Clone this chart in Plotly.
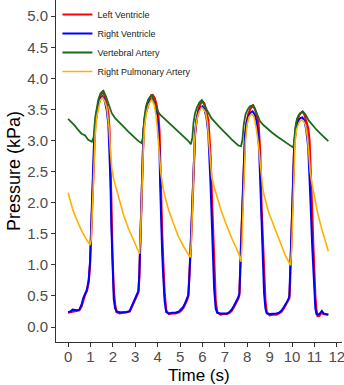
import plotly.graph_objects as go

# ---- data ----
ventricle_time = [
    0.00, 0.10, 0.20, 0.30, 0.40, 0.50, 0.60, 0.68, 0.76, 0.84, 0.92, 0.98, 1.04, 1.09, 1.15,
    1.21, 1.28, 1.35, 1.44, 1.53, 1.62, 1.72, 1.80, 1.85, 1.89, 1.93, 1.98, 2.04, 2.10, 2.17,
    2.30, 2.45, 2.60, 2.75, 2.84, 2.92, 2.99, 3.07, 3.14, 3.18, 3.21, 3.25, 3.29, 3.33, 3.37,
    3.44, 3.52, 3.62, 3.70, 3.78, 3.87, 3.96, 4.03, 4.08, 4.11, 4.14, 4.20, 4.25, 4.31, 4.38,
    4.50, 4.65, 4.80, 4.95, 5.07, 5.15, 5.22, 5.30, 5.37, 5.42, 5.48, 5.54, 5.60, 5.67, 5.74,
    5.82, 5.91, 6.00, 6.09, 6.18, 6.26, 6.31, 6.36, 6.44, 6.52, 6.59, 6.66,
    6.80, 6.95, 7.10, 7.20, 7.30, 7.40, 7.53, 7.60, 7.65, 7.69, 7.72, 7.78, 7.83, 7.90, 7.97,
    8.05, 8.15, 8.24, 8.33, 8.42, 8.50, 8.54, 8.58, 8.64, 8.70, 8.75, 8.81, 8.87,
    9.00, 9.15, 9.30, 9.42, 9.54, 9.65, 9.76, 9.83, 9.88, 9.91, 9.94, 9.98, 10.03, 10.10, 10.20,
    10.28, 10.37, 10.46, 10.55, 10.63, 10.72, 10.78, 10.83, 10.90, 10.95, 11.00, 11.04, 11.09,
    11.14, 11.22, 11.28, 11.33, 11.40, 11.48, 11.55, 11.62,
]

left_ventricle = [
    0.23, 0.24, 0.25, 0.25, 0.26, 0.27, 0.33, 0.44, 0.52, 0.58, 0.72, 1.00, 1.65, 2.29, 2.85,
    3.24, 3.47, 3.60, 3.72, 3.78, 3.73, 3.60, 3.43, 3.15, 2.75, 2.05, 1.15, 0.60, 0.36, 0.24,
    0.22, 0.23, 0.23, 0.25, 0.32, 0.38, 0.44, 0.50, 0.56, 0.80, 1.19, 1.70, 2.15, 2.70, 3.15,
    3.40, 3.55, 3.66, 3.71, 3.73, 3.68, 3.55, 3.40, 3.15, 2.70, 2.10, 1.50, 1.03, 0.55, 0.27,
    0.21, 0.22, 0.22, 0.24, 0.27, 0.31, 0.36, 0.42, 0.50, 0.80, 1.30, 1.85, 2.37, 3.10, 3.35,
    3.50, 3.59, 3.63, 3.59, 3.47, 3.33, 3.05, 2.75, 1.90, 0.95, 0.42, 0.24,
    0.20, 0.21, 0.21, 0.23, 0.26, 0.32, 0.41, 0.46, 0.52, 0.85, 1.30, 1.90, 2.37, 3.05, 3.30,
    3.43, 3.52, 3.56, 3.52, 3.42, 3.28, 3.10, 2.80, 1.90, 1.25, 0.76, 0.42, 0.24,
    0.19, 0.20, 0.20, 0.22, 0.25, 0.31, 0.38, 0.42, 0.47, 0.70, 1.03, 1.55, 2.10, 2.95, 3.28,
    3.38, 3.44, 3.46, 3.42, 3.33, 3.20, 3.00, 2.60, 1.85, 1.30, 0.80, 0.49, 0.28,
    0.18, 0.18, 0.21, 0.24, 0.21, 0.20, 0.20, 0.20,
]

right_ventricle = [
    0.24, 0.25, 0.28, 0.27, 0.27, 0.28, 0.36, 0.47, 0.55, 0.60, 0.76, 1.05, 1.72, 2.35, 2.90,
    3.26, 3.46, 3.57, 3.67, 3.71, 3.66, 3.50, 3.25, 2.85, 2.35, 1.65, 0.90, 0.45, 0.30, 0.25,
    0.24, 0.24, 0.24, 0.26, 0.34, 0.40, 0.46, 0.52, 0.58, 0.85, 1.25, 1.75, 2.20, 2.75, 3.18,
    3.40, 3.52, 3.62, 3.66, 3.67, 3.60, 3.44, 3.22, 2.85, 2.30, 1.80, 1.20, 0.80, 0.42, 0.24,
    0.22, 0.23, 0.23, 0.25, 0.29, 0.33, 0.38, 0.44, 0.52, 0.85, 1.35, 1.90, 2.42, 3.12, 3.34,
    3.46, 3.53, 3.55, 3.50, 3.36, 3.12, 2.75, 2.30, 1.45, 0.62, 0.30, 0.23,
    0.22, 0.22, 0.22, 0.24, 0.28, 0.34, 0.43, 0.48, 0.55, 0.90, 1.35, 1.95, 2.42, 3.08, 3.28,
    3.39, 3.45, 3.47, 3.42, 3.30, 3.05, 2.75, 2.30, 1.45, 0.95, 0.55, 0.30, 0.22,
    0.21, 0.21, 0.22, 0.23, 0.27, 0.33, 0.40, 0.44, 0.50, 0.75, 1.08, 1.60, 2.15, 2.98, 3.24,
    3.32, 3.36, 3.37, 3.32, 3.18, 2.90, 2.50, 1.95, 1.30, 0.85, 0.50, 0.30, 0.21,
    0.20, 0.21, 0.23, 0.26, 0.22, 0.21, 0.21, 0.20,
]

vertebral_time = [
    0.00, 0.15, 0.30, 0.45, 0.60, 0.76, 0.90, 1.06, 1.14, 1.21, 1.28, 1.35, 1.45, 1.58, 1.70,
    1.80, 1.95, 2.10, 2.25, 2.40, 2.54, 2.70, 2.84, 3.00, 3.14, 3.28, 3.34, 3.40, 3.48, 3.58,
    3.73, 3.85, 3.96, 4.10, 4.25, 4.55, 4.85, 5.15, 5.35, 5.48, 5.55, 5.60, 5.67, 5.75, 5.86,
    5.97, 6.10, 6.26, 6.40, 6.56, 6.70, 6.86, 7.00, 7.16, 7.30, 7.46, 7.60, 7.72, 7.78, 7.84,
    7.92, 8.02, 8.12, 8.27, 8.40, 8.57, 8.72, 8.87, 9.10, 9.32, 9.55, 9.76, 9.95, 10.04, 10.09,
    10.14, 10.22, 10.32, 10.48, 10.60, 10.75, 10.90, 11.10, 11.30, 11.45, 11.62,
]

vertebral_artery = [
    3.35, 3.30, 3.24, 3.17, 3.11, 3.08, 3.01, 2.98, 3.05, 3.37, 3.55, 3.66, 3.76, 3.80, 3.70,
    3.58, 3.44, 3.36, 3.31, 3.26, 3.20, 3.14, 3.10, 3.04, 2.99, 2.96, 3.05, 3.35, 3.55, 3.66,
    3.74, 3.62, 3.50, 3.42, 3.37, 3.28, 3.18, 3.07, 3.00, 2.94, 3.05, 3.29, 3.44, 3.53, 3.61,
    3.65, 3.57, 3.45, 3.36, 3.29, 3.24, 3.18, 3.12, 3.07, 3.02, 2.96, 2.92, 2.91, 3.00, 3.25,
    3.42, 3.50, 3.55, 3.57, 3.45, 3.31, 3.25, 3.20, 3.13, 3.07, 3.01, 2.96, 2.91, 2.89, 2.96,
    3.20, 3.35, 3.42, 3.47, 3.42, 3.32, 3.25, 3.17, 3.10, 3.05, 2.99,
]

pulmonary_time = [
    0.00, 0.10, 0.20, 0.30, 0.45, 0.60, 0.75, 0.90, 0.98, 1.03, 1.06, 1.10, 1.13, 1.17, 1.21,
    1.28, 1.35, 1.44, 1.53, 1.63, 1.73, 1.83, 1.89, 1.95, 2.02, 2.10, 2.25, 2.47, 2.69, 2.92,
    3.05, 3.14, 3.19, 3.23, 3.27, 3.31, 3.36, 3.42, 3.50, 3.60, 3.73, 3.84, 3.93, 3.98, 4.03,
    4.08, 4.14, 4.25, 4.48, 4.70, 4.92, 5.15, 5.37, 5.45, 5.50, 5.55, 5.60, 5.65, 5.71, 5.77,
    5.86, 5.96, 6.06, 6.14, 6.22, 6.27, 6.32, 6.36, 6.41, 6.50, 6.59, 6.82, 7.04, 7.20, 7.34,
    7.50, 7.63, 7.72, 7.76, 7.81, 7.86, 7.92, 7.99, 8.08, 8.20, 8.30, 8.40, 8.50, 8.60, 8.71,
    8.94, 9.17, 9.39, 9.69, 9.85, 9.93, 9.98, 10.03, 10.08, 10.13, 10.20, 10.30, 10.40, 10.50,
    10.60, 10.68, 10.75, 10.81, 10.88, 10.98, 11.15, 11.35, 11.50, 11.62,
]

right_pulmonary_artery = [
    2.16, 2.02, 1.90, 1.80, 1.67, 1.55, 1.45, 1.37, 1.32, 1.40, 1.60, 2.05, 2.35, 2.80, 3.10,
    3.38, 3.53, 3.65, 3.69, 3.64, 3.53, 3.20, 2.83, 2.56, 2.40, 2.29, 2.08, 1.81, 1.59, 1.40,
    1.29, 1.21, 1.18, 1.45, 1.90, 2.40, 2.90, 3.25, 3.45, 3.58, 3.66, 3.58, 3.40, 3.22, 3.02,
    2.75, 2.48, 2.21, 1.89, 1.67, 1.46, 1.30, 1.16, 1.12, 1.35, 2.00, 2.55, 3.00, 3.25, 3.37,
    3.47, 3.53, 3.50, 3.45, 3.29, 3.08, 2.85, 2.62, 2.42, 2.28, 2.16, 1.89, 1.67, 1.52, 1.40,
    1.28, 1.17, 1.05, 1.30, 1.90, 2.50, 3.00, 3.25, 3.38, 3.43, 3.38, 3.20, 2.94, 2.56, 2.18,
    1.86, 1.65, 1.43, 1.16, 1.05, 0.99, 1.25, 1.85, 2.45, 2.95, 3.18, 3.28, 3.33, 3.32,
    3.25, 3.08, 2.80, 2.50, 2.33, 2.12, 1.82, 1.55, 1.37, 1.22,
]

x_tick_values = list(range(0, 13))
y_tick_values = [0.0, 0.5, 1.0, 1.5, 2.0, 2.5, 3.0, 3.5, 4.0, 4.5, 5.0]

FONT = "Liberation Sans, Arial, sans-serif"

fig = go.Figure()
fig.add_trace(go.Scatter(x=ventricle_time, y=left_ventricle, mode="lines",
                         name="Left Ventricle", line=dict(color="#FF0000", width=2.2)))
fig.add_trace(go.Scatter(x=ventricle_time, y=right_ventricle, mode="lines",
                         name="Right Ventricle", line=dict(color="#0000FF", width=2)))
fig.add_trace(go.Scatter(x=vertebral_time, y=vertebral_artery, mode="lines",
                         name="Vertebral Artery", line=dict(color="#1A6B1A", width=1.8)))
fig.add_trace(go.Scatter(x=pulmonary_time, y=right_pulmonary_artery, mode="lines",
                         name="Right Pulmonary Artery", line=dict(color="#FFB000", width=1.6)))

axis_common = dict(
    showgrid=False, zeroline=False, showline=True, linecolor="#333333", linewidth=1,
    ticks="outside", ticklen=4, tickcolor="#333333", tickwidth=1,
    tickfont=dict(family=FONT, size=15, color="#4D4D4D"),
)

fig.update_layout(
    width=344, height=385,
    margin=dict(l=56, r=2, t=0, b=43),
    paper_bgcolor="white", plot_bgcolor="white",
    font=dict(family=FONT),
    xaxis=dict(range=[-0.54, 12.23], tickmode="array", tickvals=x_tick_values,
               ticktext=[str(v) for v in x_tick_values], ticklabeloverflow="allow",
               ticklabelstandoff=-3, **axis_common),
    yaxis=dict(range=[-0.24, 5.26], tickmode="array", tickvals=y_tick_values,
               ticktext=[f"{v:.1f}" for v in y_tick_values], **axis_common),
    legend=dict(x=0.005, y=1.0, xanchor="left", yanchor="top",
                bgcolor="rgba(0,0,0,0)", font=dict(family=FONT, size=9, color="#1A1A1A")),
    showlegend=True,
    annotations=[
        dict(text="Time (s)", xref="paper", yref="paper", x=0.5, y=-0.0965,
             xanchor="center", yanchor="middle", showarrow=False,
             font=dict(family=FONT, size=17, color="black")),
        dict(text="Pressure (kPa)", xref="paper", yref="paper", x=-0.147, y=0.5,
             xanchor="center", yanchor="middle", showarrow=False, textangle=-90,
             font=dict(family=FONT, size=18, color="black")),
    ],
)

fig.write_html(
    "out.html",
    config={"displayModeBar": False},
    post_script="document.body.style.margin='0';document.body.style.overflow='hidden';",
)
